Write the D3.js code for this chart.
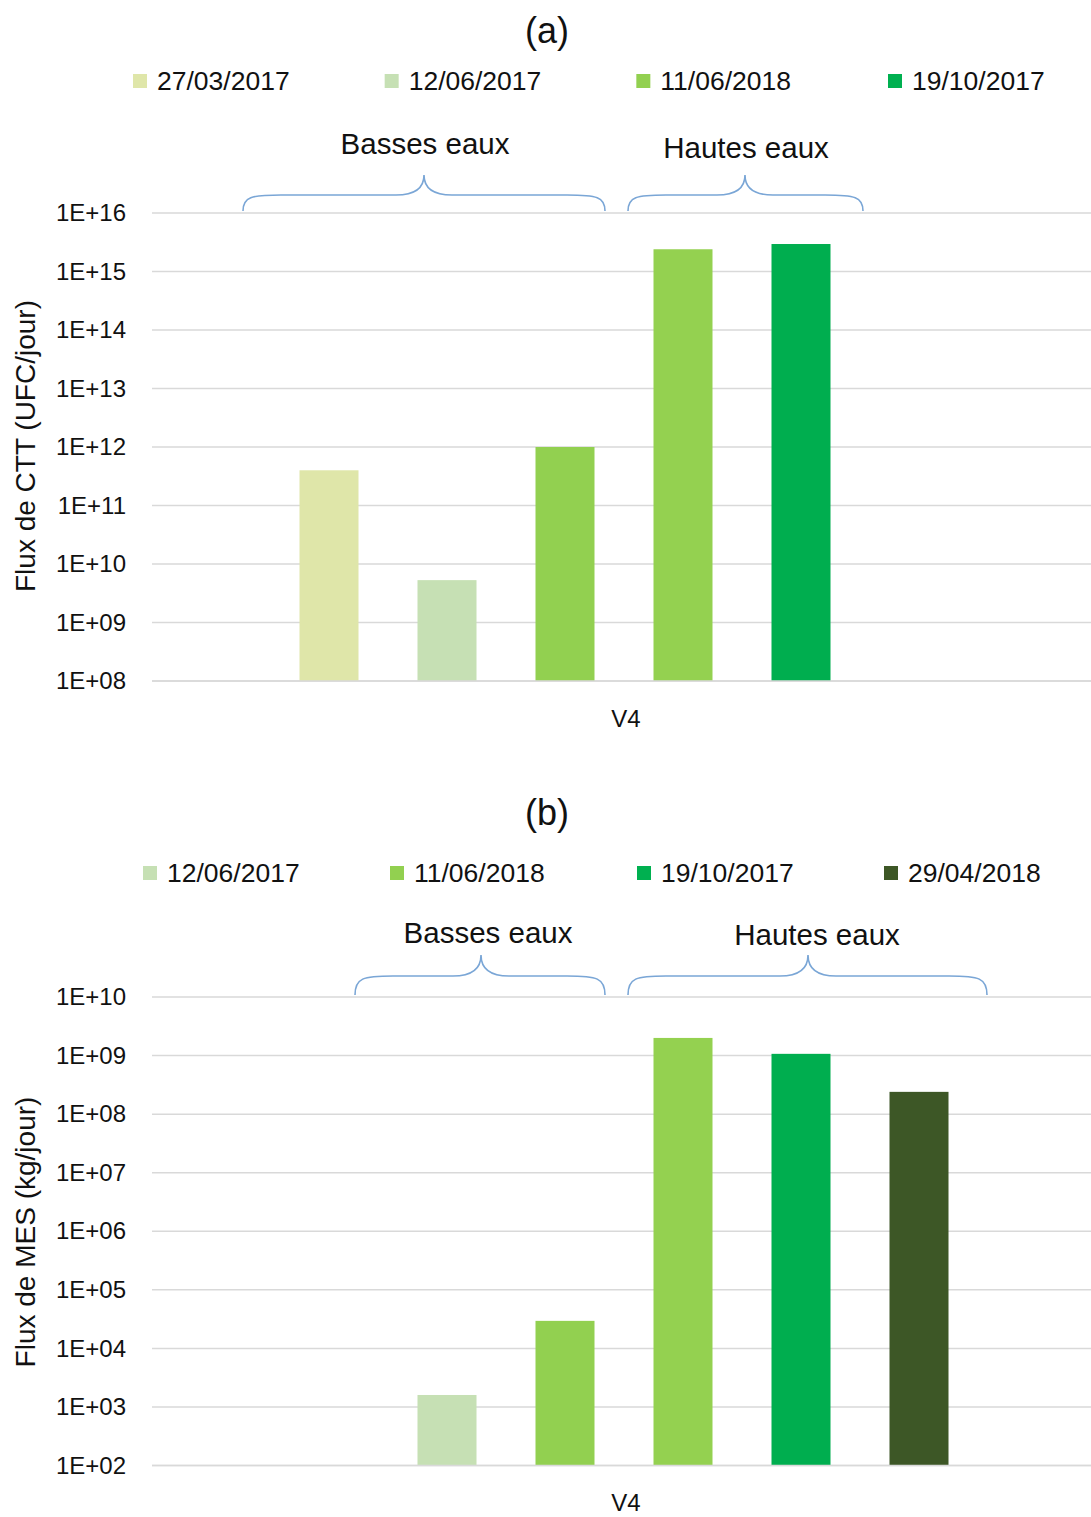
<!DOCTYPE html>
<html>
<head>
<meta charset="utf-8">
<script src="https://cdn.jsdelivr.net/npm/d3@7"></script>
<style>
  html, body { margin: 0; padding: 0; background: #fff; }
  svg { display: block; font-family: "Liberation Sans", Arial, sans-serif; }
</style>
</head>
<body>
<svg id="chart" width="1091" height="1517"></svg>
<script>
// ---------- DATA ----------
// Bar slots (one category "V4", six date series)
const slots = ["27/03/2017", "12/06/2017", "11/06/2018 (bis)", "11/06/2018", "19/10/2017", "29/04/2018"];
const slotColors = ["#dfe6a9", "#c6e0b4", "#92d050", "#94d150", "#00ae4f", "#3d5726"];
const category = "V4";

// Panel (a): Flux de CTT (UFC/jour)
const valuesA = [4.0e11, 5.3e9, 1.0e12, 2.4e15, 2.95e15, null];
const legendA = ["27/03/2017", "12/06/2017", "11/06/2018", "19/10/2017"];
const legendColorsA = ["#dfe6a9", "#c6e0b4", "#92d050", "#00b050"];
const tickValuesA = [1e8, 1e9, 1e10, 1e11, 1e12, 1e13, 1e14, 1e15, 1e16];
const tickLabelsA = ["1E+08", "1E+09", "1E+10", "1E+11", "1E+12", "1E+13", "1E+14", "1E+15", "1E+16"];

// Panel (b): Flux de MES (kg/jour)
const valuesB = [null, 1.6e3, 2.95e4, 2.0e9, 1.07e9, 2.4e8];
const legendB = ["12/06/2017", "11/06/2018", "19/10/2017", "29/04/2018"];
const legendColorsB = ["#c6e0b4", "#92d050", "#00b050", "#3d5726"];
const tickValuesB = [1e2, 1e3, 1e4, 1e5, 1e6, 1e7, 1e8, 1e9, 1e10];
const tickLabelsB = ["1E+02", "1E+03", "1E+04", "1E+05", "1E+06", "1E+07", "1E+08", "1E+09", "1E+10"];

// Brace annotations
const bracesA = [
  { label: "Basses eaux", from: 243, to: 605, peak: 424, textX: 425 },
  { label: "Hautes eaux", from: 628, to: 863, peak: 745, textX: 746 }
];
const bracesB = [
  { label: "Basses eaux", from: 355, to: 605, peak: 481, textX: 488 },
  { label: "Hautes eaux", from: 628, to: 987, peak: 808, textX: 817 }
];

// ---------- DRAW ----------
const svg = d3.select("#chart");
const plotLeft = 152, plotRight = 1091;

const x = d3.scaleBand().domain(slots).range([270, 978]).paddingInner(0.5).paddingOuter(0.25);

function bracePath(b, yPeak, yArm, yEnd) {
  const r = 38, rp = 28;
  return `M${b.from},${yEnd}` +
    ` C${b.from},${yArm + 2} ${b.from + 8},${yArm} ${b.from + r},${yArm}` +
    ` L${b.peak - rp},${yArm}` +
    ` C${b.peak - 10},${yArm} ${b.peak},${yArm - 6} ${b.peak},${yPeak}` +
    ` C${b.peak},${yArm - 6} ${b.peak + 10},${yArm} ${b.peak + rp},${yArm}` +
    ` L${b.to - r},${yArm}` +
    ` C${b.to - 8},${yArm} ${b.to},${yArm + 2} ${b.to},${yEnd}`;
}

function panel(cfg) {
  const g = svg.append("g");
  const y = d3.scaleLog().domain(cfg.domain).range([cfg.yBottom, cfg.yTop]);

  // title
  g.append("text").attr("x", 547).attr("y", cfg.titleY)
    .attr("text-anchor", "middle").attr("font-size", 36).attr("fill", "#111")
    .text(cfg.title);

  // legend
  const lx = d3.scaleLinear().domain([0, cfg.legend.length - 1]).range(cfg.legendRange);
  const leg = g.selectAll("g.leg").data(cfg.legend).join("g").attr("class", "leg")
    .attr("transform", (d, i) => `translate(${lx(i)},${cfg.legendY})`);
  leg.append("rect").attr("x", 0).attr("y", -7).attr("width", 14).attr("height", 14)
    .attr("fill", (d, i) => cfg.legendColors[i]);
  leg.append("text").attr("x", 24).attr("y", 9).attr("font-size", 26.5).attr("fill", "#111")
    .text(d => d);

  // braces
  cfg.braces.forEach((b, i) => {
    g.append("path").attr("d", bracePath(b, cfg.braceY[0], cfg.braceY[1], cfg.braceY[2]))
      .attr("fill", "none").attr("stroke", "#7aa6d6").attr("stroke-width", 1.6);
    g.append("text").attr("x", b.textX).attr("y", cfg.braceTextY[i])
      .attr("text-anchor", "middle").attr("font-size", 29.5).attr("fill", "#111")
      .text(b.label);
  });

  // gridlines
  g.selectAll("line.grid").data(cfg.ticks).join("line").attr("class", "grid")
    .attr("x1", plotLeft).attr("x2", plotRight)
    .attr("y1", d => y(d)).attr("y2", d => y(d))
    .attr("stroke", "#d9d9d9").attr("stroke-width", 1.5);

  // y axis labels
  const axis = d3.axisLeft(y).tickValues(cfg.ticks)
    .tickFormat((d, i) => cfg.tickLabels[i]).tickSize(0).tickPadding(26);
  const ag = g.append("g").attr("transform", `translate(${plotLeft},0)`).call(axis);
  ag.select(".domain").remove();
  ag.selectAll("text").attr("font-size", 24).attr("fill", "#111")
    .attr("font-family", "'Liberation Sans', Arial, sans-serif");

  // y axis title
  g.append("text")
    .attr("transform", `translate(35,${cfg.yTitleCenter}) rotate(-90)`)
    .attr("text-anchor", "middle").attr("font-size", 28).attr("fill", "#111")
    .text(cfg.yTitle);

  // bars
  const data = slots.map((s, i) => ({ s, v: cfg.values[i], c: slotColors[i] })).filter(d => d.v != null);
  g.selectAll("rect.bar").data(data).join("rect").attr("class", "bar")
    .attr("x", d => x(d.s)).attr("width", x.bandwidth())
    .attr("y", d => y(d.v)).attr("height", d => y(cfg.domain[0]) - y(d.v))
    .attr("fill", d => d.c);

  // baseline redraw
  g.append("line").attr("x1", plotLeft).attr("x2", plotRight)
    .attr("y1", y(cfg.domain[0])).attr("y2", y(cfg.domain[0]))
    .attr("stroke", "#d9d9d9").attr("stroke-width", 1.5);

  // category label
  g.append("text").attr("x", 626).attr("y", cfg.catY).attr("text-anchor", "middle")
    .attr("font-size", 24).attr("fill", "#111").text(category);
}

panel({
  title: "(a)", titleY: 43,
  domain: [1e8, 1e16], yBottom: 681, yTop: 213,
  ticks: tickValuesA, tickLabels: tickLabelsA,
  values: valuesA,
  legend: legendA, legendColors: legendColorsA, legendRange: [133, 888], legendY: 81,
  braces: bracesA, braceY: [175, 195, 211], braceTextY: [154, 158],
  yTitle: "Flux de CTT (UFC/jour)", yTitleCenter: 446,
  catY: 727
});

panel({
  title: "(b)", titleY: 825,
  domain: [1e2, 1e10], yBottom: 1465.5, yTop: 997,
  ticks: tickValuesB, tickLabels: tickLabelsB,
  values: valuesB,
  legend: legendB, legendColors: legendColorsB, legendRange: [143, 884], legendY: 873,
  braces: bracesB, braceY: [955, 976, 995], braceTextY: [943, 945],
  yTitle: "Flux de MES (kg/jour)", yTitleCenter: 1232,
  catY: 1511
});
</script>
</body>
</html>
